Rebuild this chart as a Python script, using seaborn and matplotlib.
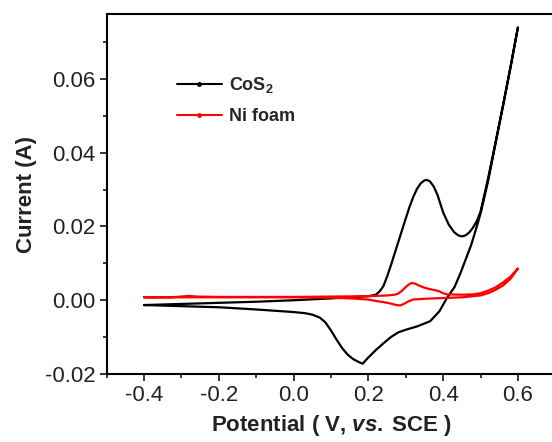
import matplotlib
matplotlib.use("Agg")
import matplotlib.pyplot as plt
import pandas as pd
import seaborn as sns
from matplotlib.lines import Line2D
from matplotlib.ticker import MultipleLocator, FormatStrFormatter

# CoS2 cyclic voltammogram: forward (anodic) scan then reverse scan
cos2_e_fwd = [-0.4, -0.3, -0.2, -0.1, 0.0, 0.1, 0.15, 0.2, 0.22, 0.23, 0.24, 0.25,
              0.26, 0.27, 0.28, 0.29, 0.30, 0.31, 0.32, 0.33, 0.34, 0.35, 0.357, 0.365,
              0.375, 0.385, 0.40, 0.415, 0.43, 0.44, 0.45, 0.46, 0.47, 0.48, 0.49,
              0.50, 0.52, 0.54, 0.56, 0.58, 0.60]
cos2_i_fwd = [-0.0013, -0.0010, -0.0007, -0.0004, 0.0000, 0.0005, 0.0008, 0.0011,
              0.0015, 0.0024, 0.0038, 0.0064, 0.0094, 0.0126, 0.0158, 0.0190, 0.0222,
              0.0253, 0.0280, 0.0302, 0.0317, 0.0325, 0.0326, 0.0322, 0.0308, 0.0285,
              0.0238, 0.0205, 0.0184, 0.0176, 0.0173, 0.0176, 0.0184, 0.0197, 0.0215,
              0.0240, 0.0330, 0.0428, 0.0528, 0.0632, 0.0740]
cos2_e_rev = [0.60, 0.58, 0.56, 0.54, 0.52, 0.50, 0.49, 0.475, 0.46, 0.445, 0.43, 0.41,
              0.39, 0.365, 0.33, 0.30, 0.28, 0.26, 0.24, 0.22, 0.20, 0.19, 0.185, 0.175,
              0.16, 0.145, 0.13, 0.115, 0.10, 0.085, 0.07, 0.05, 0.03, 0.0, -0.1, -0.2,
              -0.3, -0.4]
cos2_i_rev = [0.0740, 0.0630, 0.0526, 0.0424, 0.0322, 0.0235, 0.0200, 0.0150, 0.0110,
              0.0070, 0.0035, 0.0006, -0.0030, -0.0057, -0.0071, -0.0080, -0.0087,
              -0.0100, -0.0117, -0.0135, -0.0155, -0.0166, -0.0172, -0.0168, -0.0160,
              -0.0148, -0.0130, -0.0107, -0.0082, -0.0060, -0.0047, -0.0039, -0.0035,
              -0.0032, -0.0025, -0.0019, -0.0016, -0.0013]

# Ni foam
ni_e_fwd = [-0.4, -0.33, -0.3, -0.28, -0.26, -0.2, -0.1, 0.0, 0.1, 0.2, 0.25, 0.27,
            0.28, 0.29, 0.30, 0.31, 0.316, 0.325, 0.335, 0.35, 0.365, 0.38, 0.39, 0.40,
            0.41, 0.45, 0.48, 0.50, 0.52, 0.54, 0.56, 0.58, 0.60]
ni_i_fwd = [0.0008, 0.0008, 0.0010, 0.0012, 0.0010, 0.0009, 0.0009, 0.0009, 0.0010,
            0.0011, 0.0013, 0.0015, 0.0018, 0.0026, 0.0036, 0.0044, 0.0047, 0.0045,
            0.0040, 0.0034, 0.0030, 0.0027, 0.0024, 0.0019, 0.0016, 0.0015, 0.0016,
            0.0019, 0.0026, 0.0035, 0.0048, 0.0064, 0.0086]
ni_e_rev = [0.60, 0.58, 0.56, 0.54, 0.52, 0.50, 0.45, 0.40, 0.35, 0.32, 0.305, 0.295,
            0.285, 0.275, 0.26, 0.24, 0.22, 0.20, 0.15, 0.1, 0.0, -0.2, -0.4]
ni_i_rev = [0.0086, 0.0058, 0.0040, 0.0028, 0.0019, 0.0013, 0.0008, 0.0006, 0.0004,
            0.0002, -0.0004, -0.0010, -0.0014, -0.0013, -0.0009, -0.0005, -0.0002,
            0.0002, 0.0005, 0.0007, 0.0008, 0.0008, 0.0008]

labels = ["CoS2", "Ni foam"]
colors = {"CoS2": "black", "Ni foam": "red"}

sns.set_theme(style="ticks")
plt.rcParams["font.family"] = ["Liberation Sans", "DejaVu Sans"]
plt.rcParams["mathtext.fontset"] = "custom"
plt.rcParams["mathtext.rm"] = "Liberation Sans:bold"
plt.rcParams["mathtext.bf"] = "Liberation Sans:bold"
plt.rcParams["mathtext.it"] = "Liberation Sans:italic:bold"
plt.rcParams["axes.unicode_minus"] = False

df = pd.DataFrame({
    "E": cos2_e_fwd + cos2_e_rev + ni_e_fwd + ni_e_rev,
    "I": cos2_i_fwd + cos2_i_rev + ni_i_fwd + ni_i_rev,
    "sample": ["CoS2"] * (len(cos2_e_fwd) + len(cos2_e_rev))
              + ["Ni foam"] * (len(ni_e_fwd) + len(ni_e_rev)),
})

fig = plt.figure(figsize=(5.52, 4.42), dpi=100)
ax = fig.add_axes([0.1933, 0.1538, 0.8127, 0.8145])

sns.lineplot(data=df, x="E", y="I", hue="sample", hue_order=labels, palette=colors,
             sort=False, estimator=None, lw=1.6, legend=False, ax=ax)
for ln in ax.lines:
    ln.set_solid_joinstyle("round")

ax.set_xlim(-0.5, 0.7)
ax.set_ylim(-0.02, 0.0776)
ax.xaxis.set_major_locator(MultipleLocator(0.2))
ax.xaxis.set_minor_locator(MultipleLocator(0.1))
ax.yaxis.set_major_locator(MultipleLocator(0.02))
ax.yaxis.set_minor_locator(MultipleLocator(0.01))
ax.xaxis.set_major_formatter(FormatStrFormatter("%.1f"))
ax.yaxis.set_major_formatter(FormatStrFormatter("%.2f"))
ax.tick_params(which="major", length=5, width=1.1, labelsize=16, pad=3,
               direction="out", color="black", labelcolor="#222222")
ax.tick_params(which="minor", length=2.6, width=1.1, direction="out", color="black")
ax.tick_params(top=False, right=False, which="both")
for s in ax.spines.values():
    s.set_linewidth(1.5)
    s.set_color("black")

ax.set_xlabel("Potential ( V, $\\mathit{vs.}$\u2009SCE )", fontsize=16, fontweight="bold",
              labelpad=5, color="#222222")
ax.set_ylabel("Current (A)", fontsize=16, fontweight="bold", labelpad=6, color="#222222")

handles = [Line2D([], [], color="black", lw=1.5, marker="o", markersize=2.5),
           Line2D([], [], color="red", lw=1.5, marker="o", markersize=2.5)]
ax.legend(handles, [r"CoS$_\mathrm{2}$", "Ni foam"], loc="upper left",
          bbox_to_anchor=(0.156, 0.83), frameon=False, borderpad=0, borderaxespad=0,
          handlelength=2.5, handletextpad=0.4, labelspacing=0.7,
          prop={"weight": "bold", "size": 13})

fig.savefig("out.png", dpi=100)
